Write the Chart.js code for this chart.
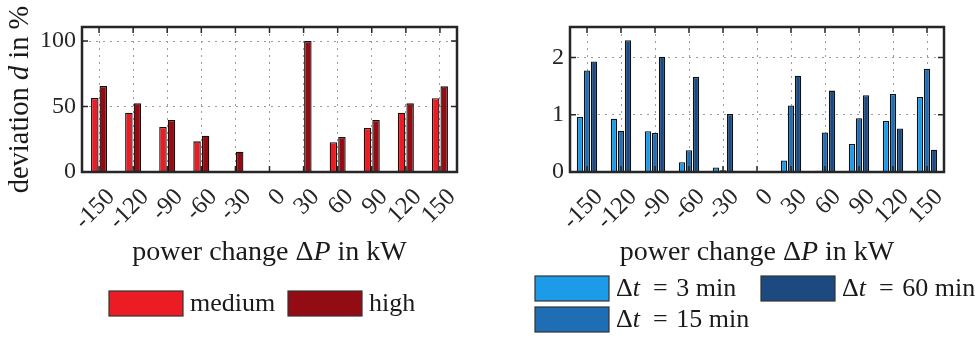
<!DOCTYPE html>
<html>
<head>
<meta charset="utf-8">
<script src="https://cdn.jsdelivr.net/npm/chart.js@4.4.1/dist/chart.umd.min.js"></script>
<style>
  body { margin: 0; background: #fff; }
  .box { position: absolute; top: 0; width: 490px; height: 338px; }
</style>
</head>
<body>
<div class="box" style="left:0"><canvas id="left-chart" width="490" height="338"></canvas></div>
<div class="box" style="left:489px"><canvas id="right-chart" width="490" height="338"></canvas></div>
<script>
// power change categories (kW)
const categories = [-150, -120, -90, -60, -30, 0, 30, 60, 90, 120, 150];

// left panel: deviation d in %
const mediumValues = [56.5, 45.3, 34.4, 23.4, 0.8, 0, 0, 22.7, 33.6, 45.3, 56.3];
const highValues = [65.6, 52.4, 39.7, 27.7, 15.5, 0, 100, 26.7, 39.7, 52.4, 65.4];
const leftTicks = [0, 50, 100];

// right panel: deviation per time step
const dt3Values = [0.96, 0.93, 0.71, 0.17, 0.08, 0, 0.20, 0.02, 0.49, 0.89, 1.31];
const dt15Values = [1.77, 0.72, 0.68, 0.38, 0.03, 0, 1.16, 0.69, 0.94, 1.36, 1.80];
const dt60Values = [1.93, 2.30, 2.01, 1.66, 1.01, 0, 1.68, 1.42, 1.34, 0.76, 0.39];
const rightTicks = [0, 1, 2];

const FONT = '"Liberation Serif", "Times New Roman", serif';
const INK = '#262626';
Chart.defaults.font.family = FONT;
Chart.defaults.color = INK;

// text with italic parts: [[text, italic], ...]
function drawRich(ctx, parts, x, y, size, align) {
  const fonts = parts.map(p => (p[1] ? 'italic ' : '') + size + 'px ' + FONT);
  const widths = parts.map((p, i) => { ctx.font = fonts[i]; return ctx.measureText(p[0]).width; });
  const total = widths.reduce((a, b) => a + b, 0);
  let cx = align === 'center' ? x - total / 2 : x;
  ctx.textAlign = 'left';
  parts.forEach((p, i) => {
    ctx.font = fonts[i];
    ctx.fillText(p[0], cx, y);
    cx += widths[i];
  });
}

const decoPlugin = {
  id: 'deco',
  afterDraw(chart, args, opts) {
    const ctx = chart.ctx;
    const a = chart.chartArea;
    const xs = chart.scales.x, ys = chart.scales.y;
    ctx.save();

    // inward tick marks
    ctx.strokeStyle = INK;
    ctx.lineWidth = 1.5;
    ctx.beginPath();
    xs.ticks.forEach((t, i) => {
      const px = xs.getPixelForTick(i);
      ctx.moveTo(px, a.top); ctx.lineTo(px, a.top + 6);
      ctx.moveTo(px, a.bottom); ctx.lineTo(px, a.bottom - 6);
    });
    ys.ticks.forEach(t => {
      const py = ys.getPixelForValue(t.value);
      ctx.moveTo(a.left, py); ctx.lineTo(a.left + 6, py);
      ctx.moveTo(a.right, py); ctx.lineTo(a.right - 6, py);
    });
    ctx.stroke();

    // frame
    ctx.lineWidth = 2.5;
    ctx.strokeRect(a.left, a.top, a.right - a.left, a.bottom - a.top);

    ctx.fillStyle = '#1a1a1a';
    ctx.textBaseline = 'alphabetic';
    // x title
    drawRich(ctx, opts.xTitle, (a.left + a.right) / 2, 260, 28, 'center');
    // y title
    if (opts.yTitle) {
      ctx.save();
      ctx.translate(opts.yTitleX, (a.top + a.bottom) / 2);
      ctx.rotate(-Math.PI / 2);
      ctx.textBaseline = 'middle';
      drawRich(ctx, opts.yTitle, 0, 0, 28.5, 'center');
      ctx.restore();
    }

    // legend
    ctx.textBaseline = 'middle';
    opts.legend.forEach(item => {
      const ds = chart.data.datasets[item.index];
      ctx.fillStyle = ds.backgroundColor;
      ctx.fillRect(item.x, item.y, 74, 25);
      ctx.strokeStyle = '#333';
      ctx.lineWidth = 1.2;
      ctx.strokeRect(item.x, item.y, 74, 25);
      ctx.fillStyle = '#1a1a1a';
      drawRich(ctx, item.label, item.x + 81, item.y + 13, 26, 'left');
    });
    ctx.restore();
  }
};

function makeOptions(yMax, tickList, yWidth, padRight, catPct, barPct, deco) {
  return {
    responsive: false,
    animation: false,
    layout: { padding: { top: 27, right: padRight, left: 0, bottom: 0 } },
    datasets: { bar: { categoryPercentage: catPct, barPercentage: barPct } },
    plugins: { legend: { display: false }, tooltip: { enabled: false }, deco: deco },
    scales: {
      x: {
        offset: true,
        grid: { offset: false, color: '#9a9a9a', lineWidth: 1, drawTicks: false },
        border: { display: false, dash: [2, 5] },
        ticks: { autoSkip: false, minRotation: 45, maxRotation: 45, padding: 11, labelOffset: 12, font: { size: 24.5 }, color: INK },
        afterFit(scale) { scale.height = 166; }
      },
      y: {
        min: 0,
        max: yMax,
        grid: { color: '#9a9a9a', lineWidth: 1, drawTicks: false },
        border: { display: false, dash: [2, 5] },
        ticks: { padding: 6, font: { size: 24 }, color: INK },
        afterBuildTicks(scale) { scale.ticks = tickList.map(v => ({ value: v })); },
        afterFit(scale) { scale.width = yWidth; }
      }
    }
  };
}

new Chart(document.getElementById('left-chart').getContext('2d'), {
  type: 'bar',
  data: {
    labels: categories,
    datasets: [
      { label: 'medium', data: mediumValues, backgroundColor: '#ec1c24', borderColor: '#111', borderWidth: 1.3 },
      { label: 'high', data: highValues, backgroundColor: '#930c14', borderColor: '#111', borderWidth: 1.3 }
    ]
  },
  options: makeOptions(110.7, leftTicks, 82, 33, 0.5, 0.88, {
    xTitle: [['power change Δ', false], ['P', true], [' in kW', false]],
    yTitle: [['deviation ', false], ['d', true], [' in %', false]],
    yTitleX: 21,
    legend: [
      { index: 0, x: 109, y: 291, label: [['medium', false]] },
      { index: 1, x: 288, y: 291, label: [['high', false]] }
    ]
  }),
  plugins: [decoPlugin]
});

new Chart(document.getElementById('right-chart').getContext('2d'), {
  type: 'bar',
  data: {
    labels: categories,
    datasets: [
      { label: 'Δt = 3 min', data: dt3Values, backgroundColor: '#1c9be8', borderColor: '#111', borderWidth: 1.3 },
      { label: 'Δt = 15 min', data: dt15Values, backgroundColor: '#1f6db4', borderColor: '#111', borderWidth: 1.3 },
      { label: 'Δt = 60 min', data: dt60Values, backgroundColor: '#1c4a80', borderColor: '#111', borderWidth: 1.3 }
    ]
  },
  options: makeOptions(2.53, rightTicks, 81, 35, 0.62, 0.9, {
    xTitle: [['power change Δ', false], ['P', true], [' in kW', false]],
    legend: [
      { index: 0, x: 46, y: 276, label: [['Δ', false], ['t', true], ['\u2002=\u2004' + '3 min', false]] },
      { index: 1, x: 46, y: 307, label: [['Δ', false], ['t', true], ['\u2002=\u2004' + '15 min', false]] },
      { index: 2, x: 272, y: 276, label: [['Δ', false], ['t', true], ['\u2002=\u2004' + '60 min', false]] }
    ]
  }),
  plugins: [decoPlugin]
});
</script>
</body>
</html>
